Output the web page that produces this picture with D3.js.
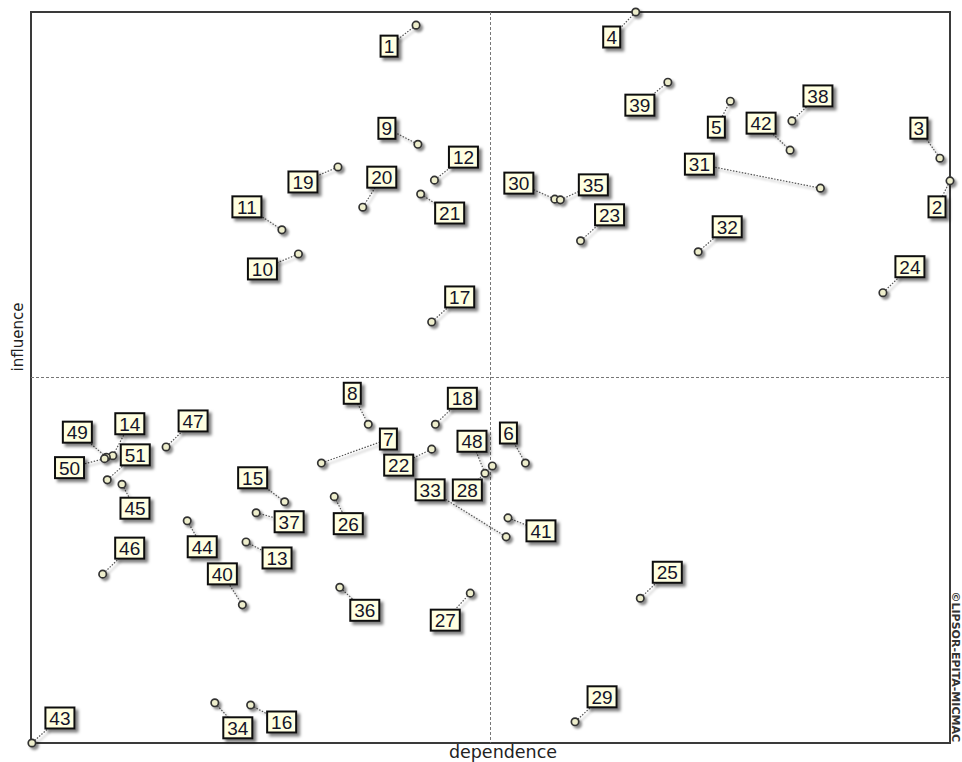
<!DOCTYPE html>
<html>
<head>
<meta charset="utf-8">
<script src="https://cdn.jsdelivr.net/npm/d3@7"></script>
<style>
  html, body { margin: 0; padding: 0; background: #fff; }
  svg { display: block; }
</style>
</head>
<body>
<svg id="chart" width="962" height="762"></svg>
<script>
// ---- Data (MICMAC direct influence / dependence map) ----
const variables = [1,2,3,4,5,6,7,8,9,10,11,12,13,14,15,16,17,18,19,20,21,22,23,24,25,26,27,28,29,30,31,32,33,34,35,36,37,38,39,40,41,42,43,44,45,46,47,48,49,50,51];
const dependence = [419,1000,989,658,761,538,316,367,421,291,273,439,234,89,276,239,436,440,334,361,424,436,598,927,663,330,478,502,592,570,859,726,517,200,576,336,245,828,693,230,519,826,1,170,99,78,147,494,82,80,83];
const influence  = [982,769,800,1000,878,383,383,436,819,669,702,770,275,393,330,52,576,436,788,733,751,402,687,616,198,337,205,379,29,744,759,672,282,55,743,213,315,851,904,189,308,811,0,304,354,231,405,369,391,389,360];
const axisTitles = { x: "dependence", y: "influence" };
const copyright = "©LIPSOR-EPITA-MICMAC";

// label placement (pixel offsets of label box centre from its point)
const labelDx = [-27,-13,-21,-24,-14,-17,67,-16,-31,-36,-35,29,31,17,-32,31,28,27,-35,19,29,-33,29,27,27,14,-25,-25,27,-36,-121,29,-76,23,33,25,33,26,-28,-20,33,-29,28,15,13,27,27,-13,-29,-35,28];
const labelDy = [21,26,-30,25,26,-30,-24,-31,-16,15,-23,-23,16,-32,-24,17,-25,-26,15,-30,19,16,-26,-26,-26,27,27,24,-25,-16,-24,-25,-47,25,-15,23,9,-25,23,-31,13,-27,-25,26,24,-26,-26,-32,-25,9,-25];

// ---- Layout ----
const frame = { left: 31, top: 12, right: 950, bottom: 743 };
const x = d3.scaleLinear().domain([0, 1000]).range([frame.left, frame.right]);
const y = d3.scaleLinear().domain([0, 1000]).range([frame.bottom, frame.top]);

const svg = d3.select("#chart");
const defs = svg.append("defs");
const f1 = defs.append("filter").attr("id", "shadow").attr("x", "-30%").attr("y", "-30%").attr("width", "180%").attr("height", "180%");
f1.append("feDropShadow").attr("dx", 3).attr("dy", 3).attr("stdDeviation", 1.4)
  .attr("flood-color", "#000").attr("flood-opacity", 0.5);
const f2 = defs.append("filter").attr("id", "lshadow").attr("x", "-20%").attr("y", "-20%").attr("width", "140%").attr("height", "140%");
f2.append("feDropShadow").attr("dx", 2.5).attr("dy", 2.5).attr("stdDeviation", 0.9)
  .attr("flood-color", "#000").attr("flood-opacity", 0.45);

// frame
svg.append("rect")
  .attr("x", frame.left).attr("y", frame.top)
  .attr("width", frame.right - frame.left).attr("height", frame.bottom - frame.top)
  .attr("fill", "none").attr("stroke", "#3a3a3a").attr("stroke-width", 2);

// quadrant lines (mid-domain)
svg.append("line")
  .attr("x1", x(500)).attr("x2", x(500)).attr("y1", frame.top).attr("y2", frame.bottom)
  .attr("stroke", "#777").attr("stroke-width", 1).attr("stroke-dasharray", "3,2");
svg.append("line")
  .attr("x1", frame.left).attr("x2", frame.right).attr("y1", y(500)).attr("y2", y(500))
  .attr("stroke", "#777").attr("stroke-width", 1).attr("stroke-dasharray", "3,2");

// axis titles
svg.append("text")
  .attr("x", 503).attr("y", 758)
  .attr("text-anchor", "middle")
  .attr("font-family", "DejaVu Sans, sans-serif").attr("font-size", 17.5)
  .attr("fill", "#222")
  .text(axisTitles.x);
svg.append("text")
  .attr("transform", "translate(23,337) rotate(-90)")
  .attr("text-anchor", "middle")
  .attr("font-family", "DejaVu Sans, sans-serif").attr("font-size", 15)
  .attr("fill", "#222")
  .text(axisTitles.y);

// copyright
svg.append("text")
  .attr("transform", "translate(952,742) rotate(90)")
  .attr("text-anchor", "end")
  .attr("font-family", "DejaVu Sans, sans-serif").attr("font-size", 11)
  .attr("font-weight", "bold")
  .attr("fill", "#333")
  .text(copyright);

// build nodes
const nodes = variables.map((id, i) => {
  const px = x(dependence[i]), py = y(influence[i]);
  const label = String(id);
  const w = label.length === 1 ? 17 : 29;
  const h = 21;
  return { id, label, px, py, cx: px + labelDx[i], cy: py + labelDy[i], w, h };
});

// connectors
const r = 3.7;
const linkG = svg.append("g").attr("filter", "url(#lshadow)");
nodes.forEach(n => {
  const dx = n.px - n.cx, dy = n.py - n.cy;
  const s = Math.min(
    dx === 0 ? Infinity : (n.w / 2) / Math.abs(dx),
    dy === 0 ? Infinity : (n.h / 2) / Math.abs(dy)
  );
  const ex = n.cx + dx * s, ey = n.cy + dy * s;
  const len = Math.hypot(n.px - ex, n.py - ey);
  if (len <= r) return;
  const ux = (ex - n.px) / len, uy = (ey - n.py) / len;
  linkG.append("line")
    .attr("x1", n.px + ux * r).attr("y1", n.py + uy * r)
    .attr("x2", ex).attr("y2", ey)
    .attr("stroke", "#555").attr("stroke-width", 1.2)
    .attr("stroke-dasharray", "1.5,1.5");
});

// points
svg.append("g").attr("filter", "url(#lshadow)")
  .selectAll("circle").data(nodes).join("circle")
  .attr("cx", d => d.px).attr("cy", d => d.py).attr("r", r)
  .attr("fill", "#eeeecc").attr("stroke", "#333").attr("stroke-width", 1.7);

// labels
const lab = svg.append("g").selectAll("g").data(nodes).join("g")
  .attr("transform", d => `translate(${d.cx},${d.cy})`);
lab.append("rect")
  .attr("x", d => -d.w / 2).attr("y", d => -d.h / 2)
  .attr("width", d => d.w).attr("height", d => d.h)
  .attr("fill", "#ffffe1").attr("stroke", "#111").attr("stroke-width", 2)
  .attr("filter", "url(#shadow)");
lab.append("text")
  .attr("x", 0).attr("y", 7)
  .attr("text-anchor", "middle")
  .attr("font-family", "Liberation Sans, Arial, sans-serif").attr("font-size", 19)
  .attr("fill", "#141428")
  .text(d => d.label);
</script>
</body>
</html>
